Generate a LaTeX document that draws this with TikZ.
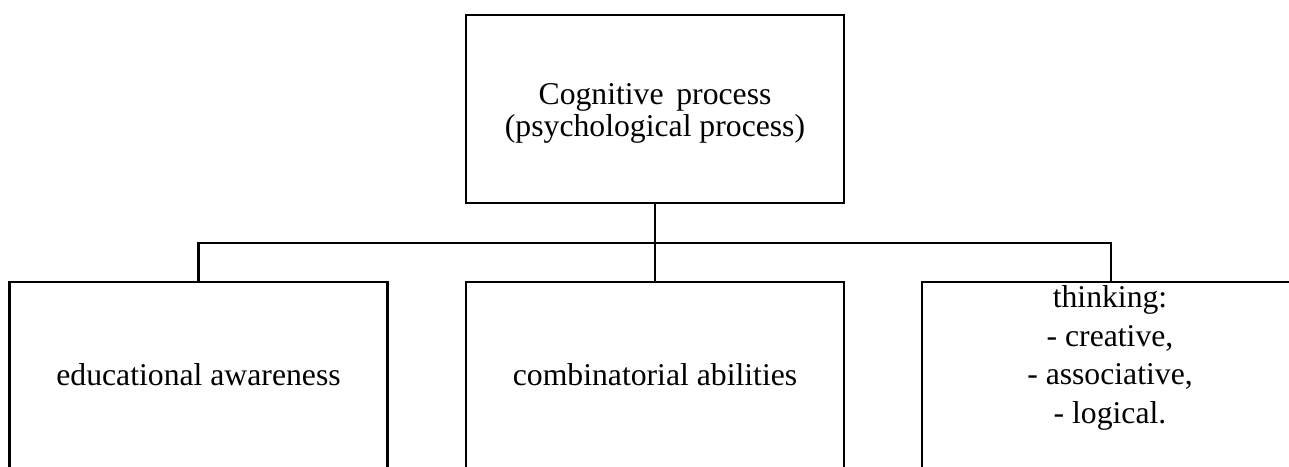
\documentclass[tikz,border=0pt]{standalone}
\usepackage{fontspec}
\setmainfont{Liberation Serif}

\begin{document}
\begin{tikzpicture}[x=1pt,y=-1pt,line width=2.5pt,
    box/.style={draw, rectangle, minimum width=378pt, inner sep=0pt, align=center,
      font=\fontsize{31.7}{32}\selectfont},
    listtext/.style={align=center, inner sep=0pt, font=\fontsize{31.7}{38.7}\selectfont}]
      \useasboundingbox (0,0) rectangle (1289,466);
      \node[box, minimum height=188pt] (cog) at (655,109) {};
      \node[listtext, font=\fontsize{31.7}{32}\selectfont] (cogtxt) at (655,113) {Cognitive\hspace{0.15em} process\\(psychological process)};
      \node[box, minimum height=186pt] (edu) at (198.5,375) {educational awareness};
      \node[box, minimum height=186pt] (comb) at (655,375) {combinatorial abilities};
      \node[box, minimum height=186pt] (think) at (1111,375) {};
      \node[listtext] (thinktxt) at (1110,358) {thinking:\\- creative,\\- associative,\\- logical.};
      \coordinate (bus) at (655,243);
      \draw (cog.south) -- (comb.north);
      \draw (edu.north) -- (edu.north |- bus) -- (think.north |- bus) -- (think.north);
\end{tikzpicture}
\end{document}
